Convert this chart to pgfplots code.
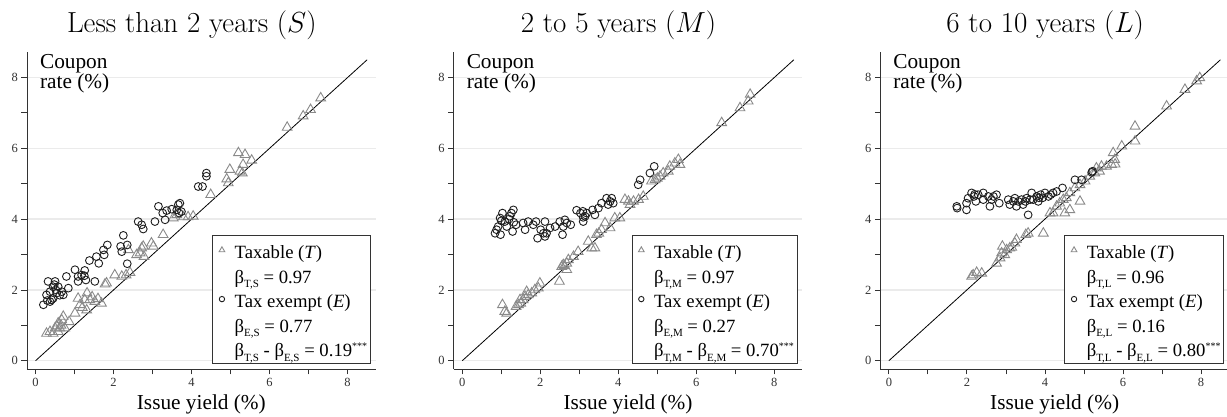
\documentclass[border=0pt]{standalone}
\usepackage{fix-cm}
\usepackage{fontspec}
\usepackage{pgfplots}
\pgfplotsset{compat=1.18}
\newfontfamily\tms{Liberation Serif}
\newcommand\tickfont{\fontsize{12.5}{13}\selectfont\tms}
\newcommand\legfont{\fontsize{18.7}{20}\selectfont\tms}
\newcommand\labfont{\fontsize{21.3}{22}\selectfont\tms}
\newcommand\titfont{\fontsize{29}{31}\selectfont}
\newcommand\sub[1]{\raisebox{-4.5pt}{\fontsize{11}{11}\selectfont #1}}
\newcommand\sig{\raisebox{7pt}{\fontsize{10}{10}\selectfont ***}}
\definecolor{trigray}{HTML}{8A8A8A}
\definecolor{circ}{HTML}{1E1E1E}
\pgfplotsset{
  panel/.style={
    scale only axis, width=348.7pt, height=317pt,
    xmin=-0.22, xmax=8.72, ymin=-0.234, ymax=8.72,
    axis x line=bottom, axis y line=left,
    axis line style={-, draw=black!80, line width=0.8pt},
    xtick={0,2,4,6,8}, ytick={0,2,4,6,8},
    minor xtick={1,3,5,7}, minor ytick={1,3,5,7},
    tick align=outside, major tick length=5.5pt, minor tick length=5.5pt,
    every tick/.style={draw=black!80, line width=0.8pt},
    ymajorgrids, grid style={black!8, line width=1.4pt},
    tick label style={font=\tickfont, text=black!80},
    /pgf/number format/assume math mode=true,
    clip=false,
    legend style={at={(axis cs:8.59,-0.093)}, anchor=south east,
      draw=black!80, line width=0.8pt, fill=white,
      inner xsep=3pt, inner ysep=3.1pt, row sep=0pt, column sep=0pt,
      cells={anchor=base west},
      nodes={inner sep=0pt, text height=20.6pt, text depth=3.9pt, font=\legfont}},
  },
  tri/.style={only marks, mark=triangle, mark size=5.6pt,
    mark options={draw=trigray, line width=0.9pt}, draw=trigray,
    legend image code/.code={\path (0pt,0pt) (18.3pt,0pt);
      \draw[##1, mark size=3.3pt] plot coordinates {(6pt,8.5pt)};}},
  cir/.style={only marks, mark=o, mark size=3.9pt,
    mark options={draw=circ, line width=0.9pt}, draw=circ,
    legend image code/.code={\path (0pt,0pt) (18.3pt,0pt);
      \draw[##1, mark size=2.7pt] plot coordinates {(6pt,8.5pt)};}},
}
\begin{document}
\begin{tikzpicture}
\useasboundingbox (0pt,0pt) rectangle (1227pt,417pt);
% ---------------- Panel S
\begin{axis}[panel, at={(27pt,48pt)}, anchor=south west]
\addplot[tri] coordinates {
(7.31,7.42) (7.05,7.09) (6.86,6.91) (6.45,6.59) (5.20,5.87) (5.37,5.82) (5.54,5.66) (5.32,5.54)
(4.98,5.40) (5.24,5.35) (5.30,5.30) (4.90,5.13) (4.94,5.02) (4.49,4.69) (4.04,4.08) (3.91,4.06)
(3.79,4.06) (3.53,4.03) (3.62,4.12) (3.27,3.56) (3.02,3.23) (2.97,3.32) (2.76,3.23) (2.72,3.18)
(2.68,3.04) (2.78,2.94) (2.59,2.99) (2.38,3.13) (2.42,2.49) (2.32,2.42) (2.21,2.38) (2.03,2.42)
(1.82,2.19) (1.78,2.16) (1.32,1.91) (1.26,1.72) (1.39,1.72) (1.52,1.67) (1.45,1.80) (1.14,1.58)
(1.09,1.76) (1.01,1.34) (0.86,1.10) (0.71,1.25) (0.67,1.15) (0.58,1.06) (0.50,0.92) (0.37,0.82)
(0.28,0.77) (0.45,0.77) (0.58,0.82) (0.75,0.92) (0.62,0.92) (1.69,1.62) (1.31,1.43) (0.55,0.98)
(0.65,1.00) (1.20,1.50) (1.60,1.75)};
\addlegendentry{Taxable (\textit{T})}
\addlegendimage{empty legend}
\addlegendentry{β\sub{T,S} = 0.97}
\addplot[cir] coordinates {
(0.20,1.58) (0.28,1.86) (0.32,2.24) (0.37,1.95) (0.41,1.72) (0.45,2.09) (0.50,2.24) (0.54,1.91)
(0.45,1.76) (0.37,1.67) (0.67,1.95) (0.71,1.86) (0.79,2.38) (0.84,2.05) (0.58,2.09) (1.01,2.57)
(1.09,2.38) (1.09,2.24) (1.18,2.42) (1.26,2.55) (1.29,2.28) (1.52,2.24) (1.38,2.83) (1.56,2.94)
(1.62,2.75) (1.74,3.13) (1.76,2.99) (1.84,3.27) (2.18,3.23) (2.21,3.08) (2.25,3.54) (2.35,3.27)
(2.35,2.74) (2.63,3.93) (2.72,3.84) (2.76,3.72) (3.06,3.93) (3.15,4.36) (3.26,4.17) (3.32,3.98)
(3.36,4.24) (3.49,4.28) (3.62,4.26) (3.66,4.41) (3.68,4.17) (3.70,4.45) (3.74,4.21) (4.17,4.92)
(4.28,4.92) (4.38,5.30) (4.38,5.21) (0.48,2.15) (0.52,2.00) (0.62,1.85) (1.25,2.40) (0.30,1.70)};
\addlegendentry{Tax exempt (\textit{E})}
\addlegendimage{empty legend}
\addlegendentry{β\sub{E,S} = 0.77}
\addlegendimage{empty legend}
\addlegendentry{β\sub{T,S} - β\sub{E,S} = 0.19\sig}
\addplot[black, line width=0.8pt, forget plot] coordinates {(0,0) (8.5,8.5)};
\node[anchor=base west, inner sep=0pt, font=\labfont] at (axis cs:0.11,8.26) {Coupon};
\node[anchor=base west, inner sep=0pt, font=\labfont] at (axis cs:0.11,7.68) {rate (\%)};
\node[anchor=base, inner sep=0pt, font=\labfont] at (rel axis cs:0.5,0) [yshift=-41pt] {Issue yield (\%)};
\node[anchor=base, inner sep=0pt, font=\titfont] at (rel axis cs:0.5,1) [xshift=-9.5pt, yshift=19pt] {Less than 2 years ($S$)};
\end{axis}
% ---------------- Panel M
\begin{axis}[panel, at={(453.7pt,48pt)}, anchor=south west]
\addplot[tri] coordinates {
(7.38,7.52) (7.33,7.33) (7.12,7.14) (6.65,6.72) (5.54,5.68) (5.58,5.54) (5.45,5.58) (5.32,5.49)
(5.28,5.35) (5.15,5.30) (5.07,5.21) (4.94,5.11) (4.85,5.07) (4.64,4.64) (4.52,4.55) (4.39,4.50)
(4.26,4.50) (4.17,4.55) (4.30,4.41) (4.04,4.03) (3.91,4.03) (3.79,3.75) (3.66,3.89) (3.57,3.70)
(3.44,3.56) (3.32,3.18) (3.40,3.18) (3.23,3.37) (2.97,3.08) (2.85,2.94) (2.72,2.85) (2.68,2.75)
(2.68,2.57) (2.59,2.71) (2.55,2.66) (2.49,2.24) (1.99,2.19) (1.95,2.05) (1.86,2.00) (1.78,1.91)
(1.65,1.95) (1.69,1.86) (1.56,1.72) (1.48,1.72) (1.44,1.58) (1.38,1.53) (1.61,1.81) (1.03,1.58)
(1.09,1.39) (1.14,1.34) (5.00,5.15) (3.50,3.60) (2.62,2.68) (1.50,1.62)};
\addlegendentry{Taxable (\textit{T})}
\addlegendimage{empty legend}
\addlegendentry{β\sub{T,M} = 0.97}
\addplot[cir] coordinates {
(0.84,3.60) (0.88,3.70) (0.92,3.79) (0.98,3.56) (0.97,4.03) (1.03,4.17) (1.09,3.93) (1.14,3.79)
(1.22,4.08) (1.26,4.17) (1.31,4.26) (1.32,3.91) (1.29,3.65) (1.38,3.84) (1.56,3.89) (1.61,3.70)
(1.69,3.93) (1.82,3.84) (1.89,3.93) (1.93,3.46) (2.01,3.70) (2.08,3.60) (2.12,3.93) (2.12,3.51)
(2.16,3.60) (2.25,3.75) (2.38,3.79) (2.50,3.93) (2.57,3.56) (2.59,3.79) (2.63,3.98) (2.68,3.89)
(2.78,3.84) (2.93,4.25) (3.03,4.17) (3.09,4.22) (3.10,3.93) (3.15,4.08) (3.19,4.17) (3.34,4.26)
(3.40,4.12) (3.49,4.31) (3.57,4.45) (3.70,4.59) (3.74,4.41) (3.79,4.50) (3.87,4.45) (3.83,4.59)
(4.51,4.97) (4.56,5.11) (4.81,5.30) (4.92,5.49) (1.00,3.95) (1.20,4.00) (3.10,4.05)};
\addlegendentry{Tax exempt (\textit{E})}
\addlegendimage{empty legend}
\addlegendentry{β\sub{E,M} = 0.27}
\addlegendimage{empty legend}
\addlegendentry{β\sub{T,M} - β\sub{E,M} = 0.70\sig}
\addplot[black, line width=0.8pt, forget plot] coordinates {(0,0) (8.5,8.5)};
\node[anchor=base west, inner sep=0pt, font=\labfont] at (axis cs:0.11,8.26) {Coupon};
\node[anchor=base west, inner sep=0pt, font=\labfont] at (axis cs:0.11,7.68) {rate (\%)};
\node[anchor=base, inner sep=0pt, font=\labfont] at (rel axis cs:0.5,0) [yshift=-41pt] {Issue yield (\%)};
\node[anchor=base, inner sep=0pt, font=\titfont] at (rel axis cs:0.5,1) [xshift=-9.5pt, yshift=19pt] {2 to 5 years ($M$)};
\end{axis}
% ---------------- Panel L
\begin{axis}[panel, at={(880.3pt,48pt)}, anchor=south west]
\addplot[tri] coordinates {
(7.97,7.99) (7.89,7.90) (7.59,7.66) (7.12,7.19) (6.31,6.62) (6.31,6.20) (5.97,6.06) (5.75,5.87)
(5.79,5.68) (5.71,5.54) (5.58,5.49) (5.45,5.49) (5.32,5.44) (5.28,5.30) (5.15,5.21) (5.03,5.07)
(4.90,4.97) (4.90,4.50) (4.77,4.88) (4.64,4.74) (4.64,4.26) (4.51,4.17) (4.47,4.55) (4.38,4.45)
(4.30,4.36) (4.21,4.17) (4.13,4.17) (3.96,3.60) (3.57,3.60) (3.51,3.56) (3.27,3.42) (3.23,3.32)
(3.10,3.18) (3.02,3.13) (2.91,3.23) (2.89,3.04) (2.85,2.90) (2.76,2.75) (2.38,2.47) (2.25,2.49)
(2.16,2.42) (2.12,2.38) (2.97,2.99) (5.40,5.35) (5.80,5.55) (4.55,4.60) (3.15,3.20)};
\addlegendentry{Taxable (\textit{T})}
\addlegendimage{empty legend}
\addlegendentry{β\sub{T,L} = 0.96}
\addplot[cir] coordinates {
(1.74,4.36) (1.75,4.31) (1.99,4.45) (1.99,4.26) (2.03,4.59) (2.12,4.74) (2.18,4.64) (2.23,4.50)
(2.29,4.69) (2.42,4.74) (2.42,4.55) (2.55,4.64) (2.59,4.36) (2.63,4.55) (2.68,4.64) (2.76,4.69)
(2.83,4.45) (3.06,4.55) (3.10,4.41) (3.19,4.50) (3.23,4.59) (3.27,4.36) (3.32,4.50) (3.40,4.55)
(3.44,4.41) (3.53,4.59) (3.57,4.12) (3.62,4.55) (3.66,4.74) (3.70,4.55) (3.79,4.64) (3.83,4.50)
(3.89,4.69) (3.94,4.60) (4.00,4.74) (4.09,4.64) (4.15,4.69) (4.21,4.74) (4.30,4.78) (4.45,4.88)
(4.77,5.11) (4.94,5.11) (5.20,5.32) (5.22,5.35) (2.20,4.70) (3.50,4.50) (3.85,4.60)};
\addlegendentry{Tax exempt (\textit{E})}
\addlegendimage{empty legend}
\addlegendentry{β\sub{E,L} = 0.16}
\addlegendimage{empty legend}
\addlegendentry{β\sub{T,L} - β\sub{E,L} = 0.80\sig}
\addplot[black, line width=0.8pt, forget plot] coordinates {(0,0) (8.5,8.5)};
\node[anchor=base west, inner sep=0pt, font=\labfont] at (axis cs:0.11,8.26) {Coupon};
\node[anchor=base west, inner sep=0pt, font=\labfont] at (axis cs:0.11,7.68) {rate (\%)};
\node[anchor=base, inner sep=0pt, font=\labfont] at (rel axis cs:0.5,0) [yshift=-41pt] {Issue yield (\%)};
\node[anchor=base, inner sep=0pt, font=\titfont] at (rel axis cs:0.5,1) [xshift=-9.5pt, yshift=19pt] {6 to 10 years ($L$)};
\end{axis}
\end{tikzpicture}
\end{document}
